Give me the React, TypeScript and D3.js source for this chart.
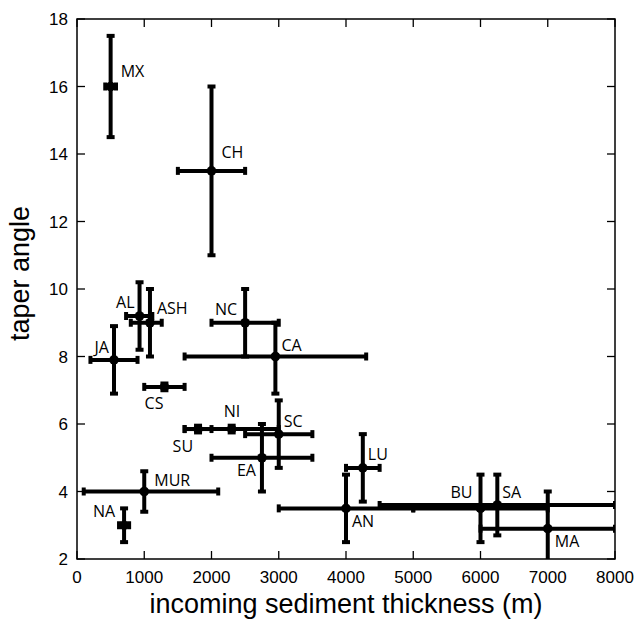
import React from "react";
import * as d3 from "d3";

const sites = ["MX", "CH", "AL", "ASH", "JA", "CS", "NC", "CA", "NI", "SC", "SU", "EA", "MUR", "NA", "AN", "LU", "BU", "SA", "MA"];
const thickness = [500, 2000, 930, 1085, 550, 1300, 2500, 2950, 2300, 3000, 1800, 2750, 1000, 700, 4000, 4250, 6000, 6250, 7000];
const thicknessLow = [420, 1500, 730, 800, 200, 1000, 2000, 1600, 1600, 2500, 1600, 2000, 100, 625, 3000, 4000, 5000, 4500, 6000];
const thicknessHigh = [580, 2500, 1120, 1260, 900, 1600, 3000, 4300, 3000, 3500, 2000, 3500, 2100, 775, 5000, 4500, 7000, 8000, 8000];
const taper = [16, 13.5, 9.2, 9.0, 7.9, 7.1, 9.0, 8.0, 5.85, 5.7, 5.85, 5.0, 4.0, 3.0, 3.5, 4.7, 3.5, 3.6, 2.9];
const taperLow = [14.5, 11, 8.2, 8.0, 6.9, 7.0, 8.0, 6.9, 5.75, 4.7, 5.75, 4.0, 3.4, 2.5, 2.5, 3.7, 2.5, 2.7, 1.8];
const taperHigh = [17.5, 16, 10.2, 10.0, 8.9, 7.2, 10.0, 9.0, 5.95, 6.7, 5.95, 6.0, 4.6, 3.5, 4.5, 5.7, 4.5, 4.5, 4.0];

const xTicks = [0, 1000, 2000, 3000, 4000, 5000, 6000, 7000, 8000];
const yTicks = [2, 4, 6, 8, 10, 12, 14, 16, 18];

// label placement (pixels relative to the point)
const labelPlacement: Record<string, [number, number, string]> = {
  MX: [10, -10, "start"],
  CH: [10, -13, "start"],
  AL: [-5, -8, "end"],
  ASH: [7, -9, "start"],
  JA: [-5, -7, "end"],
  CS: [-1, 22, "end"],
  NC: [-8, -8, "end"],
  CA: [6, -6, "start"],
  NI: [-8, -12, "start"],
  SC: [5, -7, "start"],
  SU: [-5, 23, "end"],
  EA: [-6, 18, "end"],
  MUR: [10, -6, "start"],
  NA: [-9, -8, "end"],
  AN: [6, 19, "start"],
  LU: [5, -8, "start"],
  BU: [-8, -10, "end"],
  SA: [5, -7, "start"],
  MA: [7, 18, "start"],
};

export default function App() {
  const left = 77, right = 615, top = 19, bottom = 559;
  const x = d3.scaleLinear().domain([0, 8000]).range([left, right]);
  const y = d3.scaleLinear().domain([2, 18]).range([bottom, top]);
  const cap = 4;
  const tick = 8;

  return (
    <svg width={635} height={620} style={{ position: "absolute", left: 0, top: 0 }}>
      <defs>
        <clipPath id="plot">
          <rect x={left} y={top} width={right - left} height={bottom - top} />
        </clipPath>
      </defs>
      <rect x={0} y={0} width={635} height={620} fill="#fff" />
      <rect x={left} y={top} width={right - left} height={bottom - top} fill="none" stroke="#000" strokeWidth={1.5} />
      {xTicks.map((t) => (
        <g key={"x" + t}>
          <line x1={x(t)} x2={x(t)} y1={bottom} y2={bottom - tick} stroke="#000" strokeWidth={1.3} />
          <line x1={x(t)} x2={x(t)} y1={top} y2={top + tick} stroke="#000" strokeWidth={1.3} />
          <text x={x(t)} y={583} textAnchor="middle" fontFamily="'Liberation Sans', Arial, sans-serif" fontSize={17}>
            {t}
          </text>
        </g>
      ))}
      {yTicks.map((t) => (
        <g key={"y" + t}>
          <line x1={left} x2={left + tick} y1={y(t)} y2={y(t)} stroke="#000" strokeWidth={1.3} />
          <line x1={right} x2={right - tick} y1={y(t)} y2={y(t)} stroke="#000" strokeWidth={1.3} />
          <text x={68} y={y(t)} dy="0.36em" textAnchor="end" fontFamily="'Liberation Sans', Arial, sans-serif" fontSize={17}>
            {t}
          </text>
        </g>
      ))}
      <g clipPath="url(#plot)" stroke="#000" strokeWidth={4}>
        {sites.map((s, i) => {
          const cx = x(thickness[i]);
          const cy = y(taper[i]);
          const x0 = x(thicknessLow[i]);
          const x1 = x(thicknessHigh[i]);
          const y0 = y(taperLow[i]);
          const y1 = y(taperHigh[i]);
          return (
            <g key={s}>
              <line x1={x0} x2={x1} y1={cy} y2={cy} />
              <line x1={x0} x2={x0} y1={cy - cap} y2={cy + cap} />
              <line x1={x1} x2={x1} y1={cy - cap} y2={cy + cap} />
              <line x1={cx} x2={cx} y1={y0} y2={y1} />
              <line x1={cx - cap} x2={cx + cap} y1={y0} y2={y0} />
              <line x1={cx - cap} x2={cx + cap} y1={y1} y2={y1} />
              <circle cx={cx} cy={cy} r={4.8} fill="#000" stroke="none" />
            </g>
          );
        })}
      </g>
      {sites.map((s, i) => {
        const [dx, dy, anchor] = labelPlacement[s];
        return (
          <text
            key={"l" + s}
            x={x(thickness[i]) + dx}
            y={y(taper[i]) + dy}
            textAnchor={anchor as any}
            fontFamily="'Open Sans', sans-serif"
            fontSize={16}
          >
            {s}
          </text>
        );
      })}
      <text x={(left + right) / 2} y={613} textAnchor="middle" fontFamily="'Liberation Sans', Arial, sans-serif" fontSize={27}>
        incoming sediment thickness (m)
      </text>
      <text
        transform={`translate(29, 273.5) rotate(-90)`}
        textAnchor="middle"
        fontFamily="'Liberation Sans', Arial, sans-serif"
        fontSize={27}
      >
        taper angle
      </text>
    </svg>
  );
}
